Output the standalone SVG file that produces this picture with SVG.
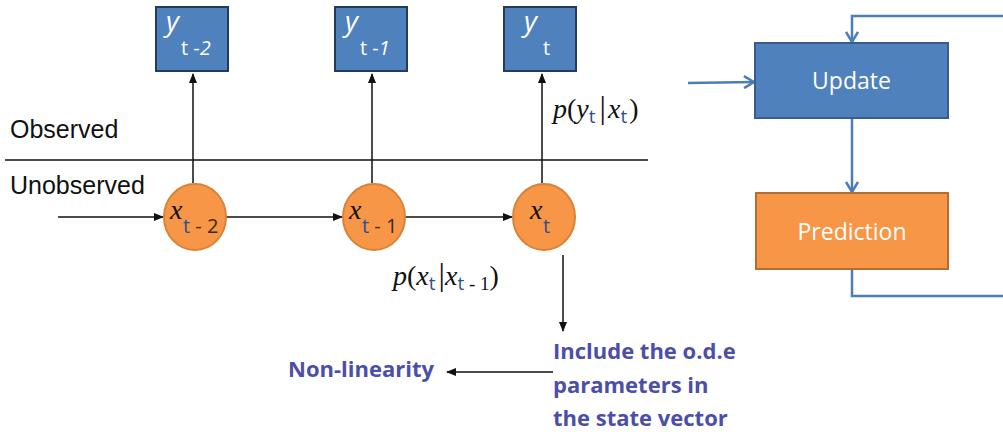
<svg xmlns="http://www.w3.org/2000/svg" width="1003" height="432" viewBox="0 0 1003 432">
<style>
.ybox{fill:#4f81bd;stroke:#243a5e;stroke-width:2}
.ylab{font-family:"Open Sans","Liberation Sans",sans-serif;fill:#fff}
.circ{fill:#f79646;stroke:#d9823a;stroke-width:2}
.math{font-family:"Liberation Serif",serif;fill:#111}
.sub{font-family:"Open Sans","Liberation Sans",sans-serif;fill:#2f4f8f;font-style:normal}
.lbl{font-family:"Liberation Sans",sans-serif;font-size:25px;fill:#111}
.blue{font-family:"Open Sans","Liberation Sans",sans-serif;font-weight:bold;font-size:22px;fill:#4b4fa8}
.blk{stroke:#111;stroke-width:1.5;fill:none}
.bl{stroke:#4a7ebb;stroke-width:2.5;fill:none}
.btxt{font-family:"Open Sans","Liberation Sans",sans-serif;font-size:23px;fill:#fff}
</style>
<defs>
<marker id="ah" markerWidth="10" markerHeight="8" refX="9" refY="4" orient="auto" markerUnits="userSpaceOnUse">
<path d="M0,0 L10,4 L0,8 z" fill="#111"/>
</marker>
<marker id="ob" markerWidth="14" markerHeight="14" refX="12" refY="7" orient="auto" markerUnits="userSpaceOnUse">
<path d="M2,1 L12,7 L2,13" fill="none" stroke="#4a7ebb" stroke-width="2.5"/>
</marker>
</defs>
<rect width="1003" height="432" fill="#fff"/>

<g id="connectors">
<line class="blk" x1="5" y1="160" x2="648" y2="160"/>
<line class="blk" x1="193" y1="183" x2="193" y2="74" marker-end="url(#ah)"/>
<line class="blk" x1="372" y1="183" x2="372" y2="74" marker-end="url(#ah)"/>
<line class="blk" x1="542" y1="183" x2="542" y2="74" marker-end="url(#ah)"/>
<line class="blk" x1="58" y1="217" x2="163" y2="217" marker-end="url(#ah)"/>
<line class="blk" x1="226" y1="217" x2="342" y2="217" marker-end="url(#ah)"/>
<line class="blk" x1="405" y1="217" x2="512" y2="217" marker-end="url(#ah)"/>
<line class="blk" x1="563" y1="255" x2="563" y2="331" marker-end="url(#ah)"/>
<line class="blk" x1="553" y1="372" x2="447" y2="372" marker-end="url(#ah)"/>
<line class="bl" x1="688" y1="83" x2="754" y2="82" marker-end="url(#ob)"/>
<line class="bl" x1="852" y1="118" x2="852" y2="192" marker-end="url(#ob)"/>
<polyline class="bl" points="852,269 852,296 1003,296"/>
<polyline class="bl" points="1003,16 852,16 852,42" marker-end="url(#ob)"/>
</g>

<g id="labels">
<text class="lbl" x="10" y="138">Observed</text>
<text class="lbl" x="10" y="194">Unobserved</text>
<text class="math" x="553" y="118" font-size="28"><tspan font-style="italic">p</tspan>(<tspan font-style="italic">y</tspan><tspan class="sub" font-size="19" dy="5">t</tspan><tspan dy="-5" font-size="32" dx="4">|</tspan><tspan font-style="italic" dx="2">x</tspan><tspan class="sub" font-size="19" dy="5">t</tspan><tspan dy="-5" dx="2">)</tspan></text>
<text class="math" x="393" y="285" font-size="28"><tspan font-style="italic">p</tspan>(<tspan font-style="italic">x</tspan><tspan class="sub" font-size="19" dy="5">t</tspan><tspan dy="-5" font-size="32" dx="3">|</tspan><tspan font-style="italic">x</tspan><tspan class="sub" font-size="19" dy="5">t</tspan><tspan font-size="19" font-family="Liberation Serif,serif"> - 1</tspan><tspan dy="-5">)</tspan></text>
<text class="blue" x="288" y="377">Non-linearity</text>
<text class="blue" x="553" y="359">Include the o.d.e</text>
<text class="blue" x="553" y="393">parameters in</text>
<text class="blue" x="553" y="426">the state vector</text>
</g>

<g id="y_t-2">
<rect class="ybox" x="156" y="7" width="72" height="64"/>
<text class="ylab" x="166" y="31" font-size="28" font-style="italic">y</text>
<text class="ylab" x="181" y="55" font-size="20">t -<tspan font-style="italic">2</tspan></text>
</g>
<g id="y_t-1">
<rect class="ybox" x="335" y="7" width="72" height="64"/>
<text class="ylab" x="345" y="31" font-size="28" font-style="italic">y</text>
<text class="ylab" x="360" y="55" font-size="20">t -<tspan font-style="italic">1</tspan></text>
</g>
<g id="y_t">
<rect class="ybox" x="504" y="7" width="72" height="64"/>
<text class="ylab" x="524" y="31" font-size="28" font-style="italic">y</text>
<text class="ylab" x="543" y="55" font-size="20">t</text>
</g>

<g id="x_t-2">
<ellipse class="circ" cx="195" cy="217" rx="31" ry="33"/>
<text class="math" x="170" y="219" font-size="28" font-style="italic">x</text>
<text x="183" y="233" font-size="20" font-family="Open Sans,Liberation Sans,sans-serif" fill="#2f4f8f">t<tspan fill="#3a2a1a"> - 2</tspan></text>
</g>
<g id="x_t-1">
<ellipse class="circ" cx="374" cy="217" rx="31" ry="33"/>
<text class="math" x="349" y="219" font-size="28" font-style="italic">x</text>
<text x="362" y="233" font-size="20" font-family="Open Sans,Liberation Sans,sans-serif" fill="#2f4f8f">t<tspan fill="#3a2a1a"> - 1</tspan></text>
</g>
<g id="x_t">
<ellipse class="circ" cx="544" cy="217" rx="31" ry="33"/>
<text class="math" x="530" y="219" font-size="28" font-style="italic">x</text>
<text x="543" y="233" font-size="20" font-family="Open Sans,Liberation Sans,sans-serif" fill="#2f4f8f">t</text>
</g>

<g id="update">
<rect x="755" y="43" width="193" height="75" fill="#4f81bd" stroke="#385d8a" stroke-width="2"/>
<text class="btxt" x="851.5" y="89" text-anchor="middle">Update</text>
</g>
<g id="prediction">
<rect x="756" y="193" width="192" height="76" fill="#f79646" stroke="#b66d31" stroke-width="2"/>
<text class="btxt" x="852" y="240" text-anchor="middle">Prediction</text>
</g>
</svg>
